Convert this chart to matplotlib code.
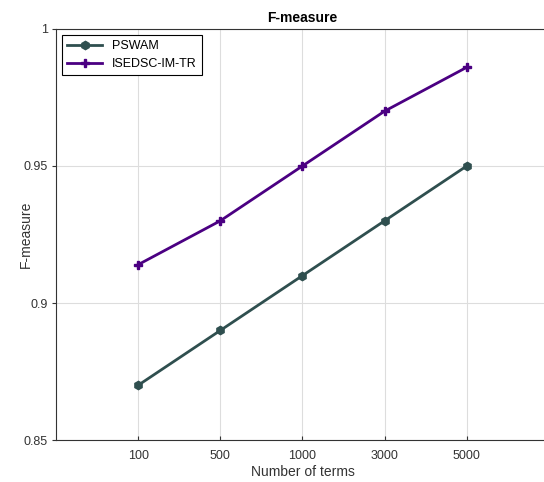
import matplotlib.pyplot as plt

plt.rcParams['font.family'] = ['Liberation Sans', 'DejaVu Sans']

# data
terms = ['100', '500', '1000', '3000', '5000']
pswam = [0.870, 0.890, 0.910, 0.930, 0.950]
isedsc = [0.914, 0.930, 0.950, 0.970, 0.986]

xpos = list(range(1, len(terms) + 1))

fig = plt.figure(figsize=(5.44, 4.82), dpi=100)
ax = fig.add_axes([0.103, 0.087, 0.906, 0.853])

ax.plot(xpos, pswam, color='#2f4f4f', lw=2, marker='h', ms=6, label='PSWAM')
ax.plot(xpos, isedsc, color='#4b0082', lw=2, marker='P', ms=6, label='ISEDSC-IM-TR')

ax.set_xlim(0, 6)
ax.set_ylim(0.85, 1.0)
ax.set_xticks(xpos)
ax.set_xticklabels(terms)
ax.set_yticks([0.85, 0.9, 0.95, 1.0])
ax.set_yticklabels(['0.85', '0.9', '0.95', '1'])
ax.tick_params(labelsize=9, length=3, width=0.8, color='#333333', labelcolor='#333333')
ax.tick_params(axis='x', direction='in', pad=7)
ax.tick_params(axis='y', direction='out', pad=3)
ax.grid(True, color='#dddddd', lw=0.8)
for s in ax.spines.values():
    s.set_color('#333333')

ax.set_title('F-measure', fontsize=10, fontweight='bold', pad=5)
ax.set_xlabel('Number of terms', fontsize=10, color='#333333')
ax.set_ylabel('F-measure', fontsize=10, color='#333333')
ax.xaxis.set_label_coords(0.5, -0.06)
ax.yaxis.set_label_coords(-0.047, 0.5)

leg = ax.legend(loc='upper left', fontsize=9, fancybox=False, edgecolor='black',
                framealpha=1, borderaxespad=0.5, handlelength=2.8)
leg.get_frame().set_linewidth(0.8)

fig.savefig('out.png', dpi=100)
